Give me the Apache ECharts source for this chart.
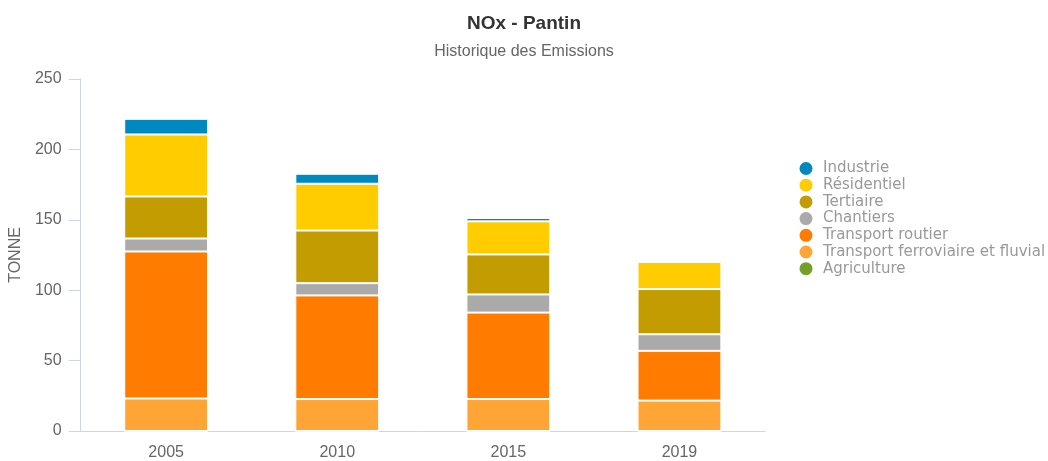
<!DOCTYPE html>
<html>
<head>
<meta charset="utf-8">
<script src="https://cdn.jsdelivr.net/npm/echarts@6/dist/echarts.min.js"></script>
<style>
  html, body { margin: 0; padding: 0; background: #fff; }
  #chart { width: 1048px; height: 461px; }
</style>
</head>
<body>
<div id="chart"></div>
<script>
  var years = ['2005', '2010', '2015', '2019'];
  var agriculture = [0, 0, 0, 0];
  var ferroviaire = [23.1, 22.7, 22.7, 21.6];
  var routier = [104.4, 73.6, 61.4, 35.3];
  var chantiers = [9.2, 8.7, 12.9, 11.8];
  var tertiaire = [29.9, 37.4, 28.4, 32.1];
  var residentiel = [44, 33.2, 23.5, 19.4];
  var industrie = [11.1, 7.1, 2.4, 0];

  var legendOrder = ['Industrie', 'Résidentiel', 'Tertiaire', 'Chantiers', 'Transport routier', 'Transport ferroviaire et fluvial', 'Agriculture'];

  function bar(name, data, color) {
    return {
      name: name,
      type: 'bar',
      stack: 'total',
      barWidth: '49%',
      data: data,
      itemStyle: { color: color, borderColor: '#fff', borderWidth: 1 }
    };
  }

  var chart = echarts.init(document.getElementById('chart'));
  chart.setOption({
    animation: false,
    title: {
      text: 'NOx - Pantin',
      subtext: 'Historique des Emissions',
      left: 'center',
      top: 9,
      itemGap: 11,
      textStyle: { fontFamily: 'Liberation Sans', fontSize: 19, fontWeight: 'bold', color: '#333' },
      subtextStyle: { fontFamily: 'Liberation Sans', fontSize: 16, color: '#666' }
    },
    legend: {
      orient: 'vertical',
      left: 792.5,
      top: 155,
      icon: 'circle',
      itemWidth: 24,
      itemHeight: 15,
      itemGap: -0.3,
      data: legendOrder,
      textStyle: { fontFamily: 'DejaVu Sans', fontSize: 15, lineHeight: 15, color: '#999' }
    },
    grid: { left: 77, right: 283, top: 79, bottom: 29 },
    xAxis: {
      type: 'category',
      data: years,
      axisLine: { lineStyle: { color: '#ccd6eb' } },
      axisTick: { show: false },
      axisLabel: { fontFamily: 'Liberation Sans', fontSize: 16, color: '#666', margin: 14 }
    },
    yAxis: {
      type: 'value',
      min: 0,
      max: 250,
      interval: 50,
      name: 'TONNE',
      nameLocation: 'middle',
      nameGap: 48,
      nameTextStyle: { fontFamily: 'Liberation Sans', fontSize: 16, color: '#666' },
      axisLine: { show: true, lineStyle: { color: '#ccd6eb' } },
      axisTick: { show: true, length: 12, lineStyle: { color: '#ccd6eb' } },
      splitLine: { show: false },
      axisLabel: { fontFamily: 'Liberation Sans', fontSize: 16, color: '#666', margin: 19 }
    },
    series: [
      bar('Agriculture', agriculture, '#72a029'),
      bar('Transport ferroviaire et fluvial', ferroviaire, '#ffa535'),
      bar('Transport routier', routier, '#ff7c00'),
      bar('Chantiers', chantiers, '#aaaaaa'),
      bar('Tertiaire', tertiaire, '#c29c00'),
      bar('Résidentiel', residentiel, '#ffcc00'),
      bar('Industrie', industrie, '#0088c0')
    ]
  });
</script>
</body>
</html>
